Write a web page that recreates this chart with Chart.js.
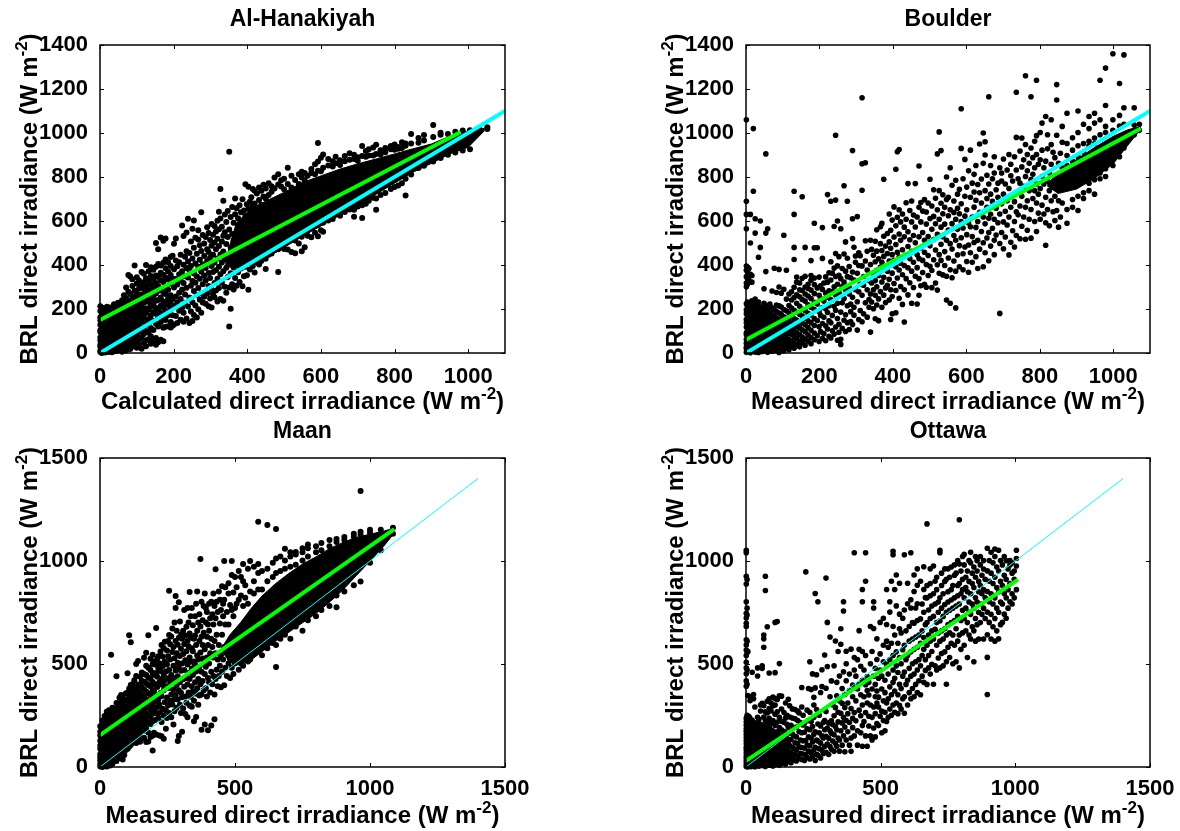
<!DOCTYPE html>
<html>
<head>
<meta charset="utf-8">
<title>BRL direct irradiance</title>
<script src="https://cdn.jsdelivr.net/npm/chart.js@4/dist/chart.umd.min.js"></script>
<style>
  html, body { margin: 0; padding: 0; background: #fff; }
  #page { position: relative; width: 1180px; height: 831px; overflow: hidden; }
  .panel { position: absolute; }
</style>
</head>
<body>
<div id="page">
  <div class="panel" style="left:0;top:0;width:560px;height:415px"><canvas id="hanakiyah"></canvas></div>
  <div class="panel" style="left:640px;top:0;width:560px;height:415px"><canvas id="boulder"></canvas></div>
  <div class="panel" style="left:0;top:415px;width:560px;height:416px"><canvas id="maan"></canvas></div>
  <div class="panel" style="left:640px;top:415px;width:560px;height:416px"><canvas id="ottawa"></canvas></div>
</div>
<script>
'use strict';

// labels
var titleNames = ['Al-Hanakiyah', 'Boulder', 'Maan', 'Ottawa'];
var xLabelCalculated = 'Calculated direct irradiance (W m';
var xLabelMeasured = 'Measured direct irradiance (W m';
var yLabelText = 'BRL direct irradiance (W m';

// tick labels
var ticksShortX = [0, 200, 400, 600, 800, 1000];
var ticksShortY = [0, 200, 400, 600, 800, 1000, 1200, 1400];
var ticksLong = [0, 500, 1000, 1500];

// reference and fit lines, read at their end points
var oneToOneShort = [[0, 0], [1100, 1100]];
var oneToOneLong = [[0, 0], [1400, 1400]];
var fitHanakiyah = [[0, 150], [980, 1005]];
var fitBoulder = [[0, 60], [1075, 1020]];
var fitMaan = [[0, 155], [1090, 1155]];
var fitOttawa = [[0, 30], [1010, 910]];

// solid part of the clouds, lower and upper edge where the dots merge
var hanakiyahCoreLow = [[340,395],[370,385],[410,400],[450,430],[500,480],[550,530],[600,578],[650,625],[700,672],[750,722],[800,772],[850,822],[900,862],[950,905],[1000,935],[1045,1012]];
var hanakiyahCoreHigh = [[340,415],[370,590],[410,655],[450,690],[500,730],[550,775],[600,805],[650,835],[700,860],[750,882],[800,905],[850,928],[900,950],[950,985],[1000,1010],[1045,1022]];
var boulderCoreLow = [[820,760],[850,725],[900,745],[950,795],[1000,860],[1040,945],[1075,1018]];
var boulderCoreHigh = [[820,770],[850,815],[900,880],[950,935],[1000,985],[1040,1015],[1075,1030]];
var maanCoreLow = [[450,565],[480,510],[520,500],[560,520],[600,560],[650,610],[700,655],[750,700],[800,745],[850,800],[900,860],[950,930],[1000,1000],[1050,1070],[1092,1140]];
var maanCoreHigh = [[450,575],[480,640],[520,700],[560,770],[600,830],[650,890],[700,940],[750,985],[800,1020],[850,1060],[900,1090],[950,1115],[1000,1130],[1050,1145],[1092,1160]];

// dots, one row per x reading: [x, y, y, y ...]
var hanakiyahColumns = [
  [1,4,11,29,38,57,71,96,103,128,149,162,191,212],[5,0,17,23,46,62,84,90,117,139,171,188],[9,8,15,34,52,66,79,108,124,156,178,204],
  [14,2,26,41,49,74,98,113,133,146,183,197],[19,12,21,37,63,70,93,121,142,168,175,210],[23,5,31,44,58,87,101,129,152,164,193],
  [28,16,24,53,67,81,110,119,147,180,207],[33,3,39,47,75,92,106,137,159,172,199],[38,20,28,60,72,99,115,143,166,189,222],
  [44,9,34,55,83,94,122,135,170,185,215],[49,26,43,66,78,111,126,153,177,201,228],[54,14,36,59,88,104,132,148,181,219],
  [60,6,30,51,77,97,125,141,167,195,212,240],[65,22,46,69,91,118,136,163,186,226,262],[71,11,38,62,85,112,131,158,190,209,250,298],
  [77,33,54,80,102,127,152,176,204,238,278,355],[82,18,44,73,95,121,145,174,199,221,268,348],[88,29,64,89,116,138,169,192,231,256,305,335],
  [94,40,52,84,109,134,161,187,216,247,283,398],[100,24,47,75,130,151,179,206,236,272,316,344],[106,36,61,96,124,165,194,225,258,293,330],
  [113,19,70,108,142,173,211,240,266,310,368],[119,45,86,117,160,188,229,253,291,322,360],[125,31,58,100,136,182,203,248,275,304,340,400],
  [132,63,92,128,155,197,232,262,288,327,372],[138,42,76,114,171,210,244,279,313,350,390],[145,55,104,147,185,222,259,296,336,378],
  [152,38,68,133,178,205,237,270,318,352,392,500],[158,49,120,163,198,241,283,305,345,405,472],[165,60,140,182,215,252,292,331,365,398,525],
  [172,53,115,157,208,234,276,323,356,410,510],[178,119,150,192,226,268,301,342,385,425,520],[185,122,172,218,247,287,334,370,412],
  [192,116,141,200,233,263,315,354,395,436],[197,124,172,246,339,442],
  [201,129,214,298,381,497],[206,168,257,336,421,520],[210,136,231,311,394],[215,192,274,358,412],[219,151,246,329,447],[223,206,289,372,580],
  [227,142,183,318,401,532],[231,228,266,349,438],[235,157,297,386,462,548],[239,211,343,416,610],[243,136,252,374,455],[247,189,306,396,507],
  [251,146,231,327,430,565],[255,173,282,361,478,602],[259,216,319,407,524],[263,161,263,348,451],[267,199,295,392,516,558],[271,242,338,424,490],
  [275,183,271,369,464,640],[279,229,312,403,536],[283,256,352,441,498],[287,224,329,386,527],[291,271,418,472,572],[295,212,304,364,459,545],
  [299,248,341,433,514],[303,207,289,396,488,586],[307,268,368,447,538],[311,253,318,411,502,577],[315,284,376,472,552],[319,234,338,429,519,601],
  [323,296,392,486,563,642],[327,245,358,448,611,745],[331,319,411,507,574],[335,237,372,461,533,692],[339,301,426,549,629],[343,274,388,496,596],
  [347,346,443,527,645],[351,121,298,407,561,915],[355,201,362,478,618],[359,313,423,541,664],[363,289,389,512,592],[367,341,454,631,702],
  [371,306,402,548,658],[375,367,498,613],[379,323,437,571,672],[383,384,526,640],[387,303,462,587,699],[391,349,418,556,648],
  [395,392,504,623,767],[399,353,471,591,676],[403,287,441,538,656,756],[407,379,514,632,688],[411,422,597,708],[415,396,558,669,745],
  [420,366,484,680,738],[426,412,651,725],[432,402,696,752],[438,418,673,738],[444,441,711,765],[450,382,428,702,748],[458,447,718,772],[466,452,733,758],[474,468,491,748,798],
  [484,368,472,766,812],[492,484,757,785],[500,473,744,792],[510,471,536,768,842],[520,459,752,806],[530,453,511,786],[540,498,768,812],[548,462,528,798,824],[556,481,784,818],[564,533,806],
  [574,526,572,818,836],[584,547,812,858],[592,531,582,828,870,955],[600,558,826,888],[606,551,592,842,902],[620,602,852,882],[632,609,848,872],[640,631,862,892],[652,624,854,876],[665,641,872,896],
  [678,652,878,908],[690,619,651,882,901],[700,666,890,874],[712,614,672,896,941],[722,678,892,918],[730,692,898,926],[742,706,898,934],[750,651,702,904,947],[762,718,902,922],[775,727,912,932],
  [790,746,926,941],[800,754,924,948],[810,761,928,936],[820,772,932,958],[830,716,792,942,952],[845,811,952,996],[865,841,956,977],[880,851,966,991],
  [905,871,982,1036],[925,886,992,1001],[945,901,996],[965,911,1006],[985,921,1011],[1005,926,1013],[1030,1006,1021],[1052,1018,1026]
];

var boulderColumns = [
  [1,3,19,27,44,61,83,92,118,137,152,178,196,224,301,318,347,376,395,565,630,690,1060],[4,11,36,52,70,99,112,141,165,186,213,232,312,339,368],
  [8,6,24,41,67,88,106,129,158,172,203,228,331,384],[12,1,17,47,58,79,101,124,149,194,218,358,500,630],[16,9,31,54,76,94,120,145,168,189,237,322,352],
  [20,22,40,63,85,110,133,161,183,209,226,735,1020],[25,4,28,50,72,97,126,151,176,200,245,545,610],[29,14,37,59,81,104,139,163,191,221],
  [34,2,25,48,69,92,117,144,170,197,232,435],[39,18,34,56,86,108,127,155,181,210,480,600],[44,7,29,45,74,96,122,148,174,204],
  [49,21,42,64,89,113,136,166,192,226,292],[54,12,33,55,78,101,131,157,187,215,370,545,905],[59,3,26,46,71,94,119,150,178,205,565],
  [65,16,38,62,83,110,134,162,184,222],[71,8,31,52,75,98,126,146,173,206,282],[77,24,43,68,91,115,139,167,196,385],[83,13,35,58,86,107,131,159,188,218,275],
  [90,2,27,49,79,103,124,153,182,214,300,380],[96,19,41,66,94,121,143,176,209,272],[103,10,32,56,82,112,138,165,198,290,535],[110,24,48,73,100,129,158,192,245,376],
  [117,15,37,61,90,119,147,182,216,268],[124,30,55,84,108,135,168,204,241,278],[131,22,45,76,101,127,156,194,252,299,425,480,630,735],[138,38,66,93,122,150,185,226,264,322,345],
  [146,28,52,83,114,141,176,212,256,287,318],[153,47,72,105,136,168,199,243,284,340,710],[161,35,63,97,128,158,192,236,268,300,349,480],[169,54,82,116,146,181,219,259,293,312],
  [177,42,70,103,138,173,208,248,286,331,352,420],[186,60,91,125,157,197,231,270,311,341,478,590],
  [194,78,148,223,296,478],[199,52,119,187,262,345],[203,97,171,248,306],[208,66,134,207,289,430,570],[212,88,162,236,318],[217,56,124,201,272,346],
  [222,109,184,254,322,720],[226,76,146,215,283,365],[231,68,137,243,332,415,690],[235,101,171,279,363],[240,86,212,301,386,575],[244,118,194,264,348,452,695,990],
  [249,58,157,226,312,396,600],[253,94,131,277,353,438],[258,39,62,186,263,338,565],[262,112,228,302,384],[267,149,248,322,450,760],[271,98,174,287,372,505],
  [276,138,215,347,431,690],[281,107,268,298,393],[285,143,188,222,342],[290,129,253,368,520,610,920],[294,172,208,332,481],[298,288,412,441],
  [303,104,233,362,620],[307,152,278,398,456],[311,193,312,442],[316,142,262,396,740,860,1160],[320,178,308,348],[325,228,418,510,865],[330,163,287,377,462],
  [335,208,328,243],[339,95,268,402,512],[342,232,318,471],[347,201,287,361,444],[352,156,262,329,415,508],[356,218,301,376,463,560],[361,147,246,352,428],
  [366,279,391,497,574],[370,208,323,412,466,589],[375,263,344,439,531,790],[380,229,296,381,486],[385,308,372,452,543],[390,241,335,418,505,632],
  [394,152,287,399,476,558],[398,178,257,363,447,604],[403,316,421,527,664],[408,183,284,392,493,578,835],[412,341,458,617,915],[417,249,377,436,541,651,925],
  [421,302,408,512,596],[426,221,356,469,632],[431,141,287,398,528,572],[436,338,445,608,683],[441,264,387,484,551,770],[446,319,429,515,648],
  [451,226,372,462,596,691],[456,298,412,534,627],[461,349,501,573,770],[466,223,388,447,618],[471,262,338,429,528,662,850],[476,306,477,596,684],
  [481,366,421,548,645],[486,312,458,512,697],[491,299,402,586,641],[496,352,443,529,682],[501,394,487,611,790],[506,297,375,562,668],
  [511,424,516,621,742],[516,318,468,587,703],[521,286,401,539,651,905],[526,362,447,608,738,1005],[531,421,494,572,681,920],[536,355,528,633,719],
  [541,398,461,586,662],[546,241,349,512,698,800],[551,432,559,624,708],[556,226,378,497,651,842],[561,342,473,588,762],[566,418,534,639,691],
  [571,205,372,512,608,785],[576,446,562,658,722],[581,392,488,633,744],[586,524,597,678,930,1110],[591,378,451,568,792],[596,482,622,712,880],
  [601,416,538,651,754],[606,367,491,592,828],[611,456,574,708,922],[616,412,529,618,772],[621,502,663,732,812],[626,438,571,694,852],
  [631,384,512,598,766],[636,472,639,728,950],[641,552,682,791],[646,392,501,618,862,1000],[651,456,587,738,900,960],[656,523,662,702,808],
  [661,419,548,612,768,1165],[666,486,631,722,852],[671,567,689,792],[676,447,512,608,818,892],[681,536,658,742],[686,592,708,772],[691,180,498,632,842],
  [696,548,678,782,818],[701,474,596,722,882],[706,527,644,768],[711,582,692,832],[716,446,618,748,902],[721,503,662,806,858],[726,556,716,782],
  [731,482,598,688,892],[736,534,642,832,980,1185],[741,628,728,792],[746,519,668,772,918],[751,576,712,846,977],[756,618,758,878],[761,517,662,802,948,1260],
  [766,558,692,828,902],[771,608,738,862],[776,522,652,788,932,1165],[781,702,812,888],[786,598,738,842,962],[791,552,682,768,902,988,1240],[796,636,722,858],
  [801,608,748,878,1002],[806,672,802,922,1045],[811,632,768,842],[816,490,592,708,872,1075],[821,652,782,928,992],[826,578,738,818],[831,692,858,948,1060],
  [836,642,772,912],[841,602,712,888],[846,648,792,990,1150,1220],[851,572,692,862],[856,618,748,908],[861,682,842,958,1030],
  [874,590,652,852,898,952,1090],[889,662,698,872,922,978],[904,648,712,892,942,1002,1100],[919,702,728,912,952,1040],[934,738,772,942,962,1020,1075],
  [949,722,788,952,977,1045,1090],[964,792,818,992,1060,1240],[979,802,838,1002,1030,1125,1295],[999,852,1012,1060,1360],[1017,892,1032,1080,1225],[1029,932,1040,1115,1355],[1057,992,1036,1115],[1071,1012,1040]
];

var maanColumns = [
  [1,3,16,33,47,62,88,104,127,153,171,198],[5,9,24,41,55,79,96,118,146,166,190],[9,0,19,36,68,84,111,137,159,183,226],[13,12,28,50,73,92,123,142,174,203],
  [17,5,22,44,61,86,108,131,156,179,212,248],[21,17,35,57,81,99,126,148,168,194,231],[25,2,27,48,70,94,116,139,162,187,216,268],[29,13,38,64,83,107,130,153,182,207,241],
  [33,21,45,59,91,112,136,161,178,199,246,276],[37,7,31,53,76,98,124,147,172,205,228,258],[41,24,49,71,95,128,151,176,201,236,262,545],[46,16,42,63,89,117,143,169,197,223,267,288],
  [51,33,58,84,106,134,158,186,213,243,279],[56,38,61,90,114,141,167,192,224,251,284],[61,29,54,82,113,138,164,189,217,246,274,311,440],[67,47,75,104,133,159,184,212,238,268,302],
  [72,44,79,109,135,163,187,216,243,271,299,336],[78,63,94,122,153,180,207,234,261,290,318,349],[84,36,72,103,139,168,196,226,253,282,309,344],[90,58,86,118,146,173,201,229,259,288,326],
  [96,83,114,144,175,203,231,264,293,322,358],[102,88,121,148,182,209,236,260,291,328,361,455],[108,98,132,163,193,224,248,281,312,347,381,640],[114,107,141,172,204,233,265,297,331,368,398,605],
  [120,118,151,178,212,238,272,301,329,364,402],[127,127,162,196,226,256,287,316,352,384,421],[134,116,149,181,213,246,276,311,343,379,442,500],[141,131,171,203,237,266,299,332,367,401,515],
  [148,122,158,194,228,258,289,326,358,397,438],[155,138,183,217,247,282,313,349,386,419,459],[163,142,176,208,241,272,306,342,377,414,452,530],[171,121,189,224,259,294,329,366,407,446,491,555],
  [179,124,168,216,252,288,323,358,398,435,482,640],[187,146,209,243,278,314,351,392,428,471,526],[195,80,152,222,258,296,336,374,413,456,499,545],
  [200,166,279,366,448,512],[204,228,318,402,497],[208,158,262,343,456,675],[212,291,388,438,527],[216,239,326,479,538],[220,153,302,411,504],[224,266,359,466,561],
  [228,149,218,344,427,592],[232,283,398,489,536],[236,137,249,372,446,578],[240,314,421,512,608],[244,186,276,392,463],[248,238,337,498,566],[252,298,431,538,612],
  [256,262,384,471,641,855],[260,322,409,522,596],[264,241,352,447,633],[268,303,436,558,672],[272,206,376,491,582],[276,271,329,417,528,702],[280,349,468,612,772,830],
  [284,288,398,552,661],[288,126,328,441,506,594],[292,151,372,483,628,800],[296,302,412,539,706],[300,262,361,467,574,643],[304,171,338,503,622],[308,284,426,548,662],
  [312,389,471,597,762],[316,257,342,518,638],[320,312,432,562,681],[324,242,401,497,612,772],[328,362,458,586,702],[332,298,427,532,648,850],[336,341,511,628,732],
  [340,292,392,478,577,772],[344,366,446,562,688],[348,222,322,512,622],[352,411,498,638,732],[356,243,356,463,592,792],[360,382,541,662,852],[364,302,427,522,702],
  [368,347,487,612,742],[372,402,556,682,1010],[376,181,352,462,632,802],[380,418,527,592,712],[384,372,502,652,782],[388,206,452,572,842],[392,382,487,702,772],
  [396,342,532,632,752],[400,178,432,592,692],[404,412,502,662,792],[408,362,552,722],[412,202,462,622,802],[416,402,582,742],[420,442,532,692,842],[424,232,352,612,782],
  [428,427,552,722,960],[432,472,642,802],[436,392,522,752],[440,442,592,852],[444,492,697,812],[448,387,542,762],[452,462,642,877],[456,522,732,792],
  [460,397,582,812,1000],[464,482,692,872],[470,442,562,752],[476,502,692,842,892],[482,432,522,787],[488,482,762,932,1000],[494,452,732,847],[500,502,772,922],
  [506,512,792,872],[514,472,542,812,952],[522,502,832,922],[530,492,782,902,985],[538,532,822,882],[548,512,792,962],[556,522,852,1000],
  [570,552,842,902,972],[586,562,862,942,985,1190],[600,542,862,952],[620,577,902,962,1175],[640,602,922,992],[652,485,592,942,1012,1155],[668,622,952,1022],
  [685,642,962,1002,1060],[705,622,972,1022,1042],[725,682,982,1032,1044],[750,662,1002,1042,1062],[770,712,1022,1062,1080],[800,732,1042,1072],[820,762,1052,1087],
  [850,782,1072,1102],[876,775,832,1092,1107],[905,852,1102,1117],[940,882,1117,1132],[965,900,1127,1142,1340],[1000,992,1137,1152],[1040,1052,1152],[1085,1132,1162]
];

var ottawaColumns = [
  [1,3,14,28,41,53,69,84,96,113,127,142,158,173,186,203,218,236,392,418,453,482,508,541,568,592,618,682,698,723,746,802,888,926,1040,1052],
  [4,8,21,35,47,62,77,92,108,121,138,152,167,181,198,222,251,402,472,558,611,738,771,910],[7,0,17,31,55,71,88,103,117,133,147,163,178,192,211,228,347,560],
  [11,5,24,38,59,74,97,111,126,144,159,176,199,216,245],[15,11,29,44,51,66,82,104,119,137,155,171,188,207,236,322,341],[19,2,19,33,48,73,91,114,131,149,164,183,202],
  [23,7,25,37,58,76,99,122,138,161,178,196,227,460],[28,13,30,43,65,86,106,129,146,169,187,208,331,352],[33,1,20,36,54,70,94,116,134,157,173,199,291],
  [38,9,27,47,63,85,108,126,150,177,192,214],[43,16,34,52,74,96,118,144,166,189,241,442,481],[48,4,23,39,61,79,103,132,155,180,211,231],
  [54,12,31,49,72,93,115,137,162,186,206,272,301],[60,7,26,42,66,88,110,128,153,179,204,309,479,491],[66,19,37,57,78,101,123,148,174,199,242,298,581,622,641],
  [72,3,29,51,69,92,117,141,164,192,224,268,857,926],[79,14,34,54,82,107,131,156,183,214,262,319,681],[86,9,24,46,64,87,111,139,166,193,236,284,331,456],
  [93,18,37,58,76,102,125,152,181,212,272,311],[100,5,28,44,71,97,120,147,175,226,296,339],[108,12,33,53,83,106,134,161,202,256,301,332,458,702],
  [116,22,41,62,91,115,143,171,218,268,328,706],[124,8,30,56,77,101,127,156,192,241,346,502],[132,17,39,66,90,118,145,181,222,281,344],
  [141,25,46,72,94,122,150,172,216,264],[147,14,58,107,166,238,311],[152,37,85,139,207,251],[157,27,76,121,192,329],[162,52,104,165,243,297],[167,21,69,133,203],
  [172,44,96,161,238,282],[177,35,89,152,192],[182,61,118,234,279],[187,29,83,146,194],[192,53,113,226,271],[197,41,97,171,262],[202,67,131,216],[207,37,95,166,291,386],
  [212,63,127,204,251],[217,31,91,169,211],[222,59,129,947],[227,47,107,186,276],[232,77,146,226,381],[237,39,104,181,266,511],[242,69,141,221,376],[247,51,121,196,452],
  [252,84,159,241,301,338],[257,32,96,171,384,842],[262,62,131,279,448],[267,57,126,209,802],[272,89,166,251],[277,44,116,199,362],[282,81,151,391,472],[287,66,141,216],
  [292,101,181,226,544],[297,71,149,269,382,917],[302,111,189,702,488],[307,61,139,214],[312,99,176,341,631],[317,86,164,224,418],[322,126,206,302],[327,76,156,249,491],
  [332,114,196,288,612],[337,101,181,346,411],[342,141,219,266,561],[347,77,131,321,442],[352,176,261,596,671],[357,106,214,309,381],[362,151,241,462,757,802],[367,74,194,289,352],
  [372,131,226,419,501,562],[378,171,259,311],[384,106,216,371,451],[390,76,141,284,572],[396,191,236,341,398],[402,151,264,471,531,1040],[408,224,321,441],[414,106,176,379,521],
  [420,276,401,571,662],[426,166,249,351,489],[432,101,201,301,421,561,802,862],[438,221,341,471],[444,151,264,399,541,902,1040],[450,101,311,371,439],[456,199,246,349,411],
  [462,151,301,501,682],[468,131,241,379,561],[474,189,291,441,672,772,802],[480,146,259,341,401,479],[486,211,311,369,522,622],[492,201,431,291,339],[498,246,471,549,702],
  [504,166,271,379,441],[510,226,321,511,591,722],[516,176,266,361,421],[522,221,311,499,611,692,862],[528,241,331,451,581],[534,281,389,521,752,802],[540,251,351,601,902],
  [546,301,411,471,541,682,1030,1047],[552,266,369,431,641,862],[558,311,491,559,782,932],[564,259,351,459,601],[570,299,401,531,671,742,892],[576,281,381,501,651],
  [582,331,441,569,722],[588,261,341,461,591,762,1030],[594,401,521,661],[600,301,421,541,792,892],[606,361,479,611,682],[612,331,441,559,772,812,1040],[618,381,501,621,701],
  [624,341,451,571,698,852,932],[630,401,511,631,772],[636,361,471,581,711,792,882,962],[642,419,521,641],[648,351,491,601,719,902],[654,441,541,661,791],[660,411,571,629,751,862,972],
  [666,469,521,691,822],[672,401,591,701,821,881,1180],[678,481,541,641,762],[684,451,611,721,831,891,962],[690,499,561,661,781],[696,402,621,731,841,976],[702,491,669,791,902],
  [708,471,591,701,861,921],[714,529,651,751,801],[720,481,611,709,821,1040,1052],[726,551,661,771,881,941],[732,491,621,731,841],[738,559,671,789,901,962],[744,402,511,641,751,911],
  [750,581,691,801,851,962],[756,531,651,761,921],[762,601,701,811,861,971],[768,501,641,771,881],[774,591,711,821,931,981],[780,511,671,781,941],[786,611,731,831,881,1002],
  [792,481,641,791,891,985,1200],[798,571,711,841,951],[804,651,761,861,911,1022],[810,591,721,821,981,1032],[816,661,771,871,921],[822,531,701,851,951],[828,641,751,801,901,1002],
  [834,621,741,841,991,1042],[840,681,791,891,941],[846,511,661,771,871,971],[852,611,721,821,921,1022],[858,691,801,951,1002],[864,621,751,851,901],[870,701,791,881,981,1022],
  [876,741,841,931],[882,621,771,861,961,1002],[888,721,821,911],[896,352,532,642,752,852,952,1062],[903,702,802,902,1002],[910,621,741,841,941,1042],[917,681,791,891,991],
  [924,611,721,821,921,1022,1058],[931,661,771,871,971],[938,622,751,851,951,1052],[945,691,801,901,1002],[952,702,791,881,981],[959,742,841,931,1022],[966,722,821,911,1002],
  [973,771,861,961],[980,802,891,981,1002],[988,791,841,941,991],[996,821,911,951],[1004,861,976,1012,1052]
];

// turn the rows into {x, y} points for the scatter dataset
function columnsToPoints(columns) {
  var points = [];
  columns.forEach(function (col) {
    for (var i = 1; i < col.length; i++) {
      points.push({ x: col[0], y: col[i] });
    }
  });
  return points;
}

function pairsToPoints(pairs) {
  return pairs.map(function (p) {
    return { x: p[0], y: p[1] };
  });
}

function lineDataset(pairs, color, width) {
  return {
    type: 'line',
    data: pairsToPoints(pairs),
    borderColor: color,
    borderWidth: width,
    pointRadius: 0,
    fill: false,
    borderCapStyle: 'butt'
  };
}

// inward ticks on all four sides, box, and axis labels with a raised -2
var matlabAxes = {
  id: 'matlabAxes',
  afterDraw: function (chart, args, opts) {
    var ctx = chart.ctx;
    var area = chart.chartArea;
    ctx.save();
    ctx.strokeStyle = '#000';
    ctx.lineWidth = 1;
    ctx.beginPath();
    chart.scales.x.ticks.forEach(function (t) {
      var px = Math.round(chart.scales.x.getPixelForValue(t.value)) + 0.5;
      ctx.moveTo(px, area.top);
      ctx.lineTo(px, area.top + 4);
      ctx.moveTo(px, area.bottom);
      ctx.lineTo(px, area.bottom - 4);
    });
    chart.scales.y.ticks.forEach(function (t) {
      var py = Math.round(chart.scales.y.getPixelForValue(t.value)) + 0.5;
      ctx.moveTo(area.left, py);
      ctx.lineTo(area.left + 4, py);
      ctx.moveTo(area.right, py);
      ctx.lineTo(area.right - 4, py);
    });
    ctx.stroke();
    ctx.lineWidth = 1.5;
    ctx.strokeRect(area.left, area.top, area.right - area.left, area.bottom - area.top);

    ctx.fillStyle = '#000';
    ctx.textBaseline = 'alphabetic';
    drawLabel(ctx, opts.xLabel, (area.left + area.right) / 2, area.bottom + 56, 0);
    drawLabel(ctx, yLabelText, area.left - 63, (area.top + area.bottom) / 2, -Math.PI / 2);
    ctx.restore();
  }
};

function drawLabel(ctx, text, cx, cy, angle) {
  var big = 'bold 24px "Liberation Sans"';
  var small = 'bold 17px "Liberation Sans"';
  ctx.font = big;
  var w1 = ctx.measureText(text).width;
  var w3 = ctx.measureText(')').width;
  ctx.font = small;
  var w2 = ctx.measureText('-2').width;
  var start = -(w1 + w2 + w3) / 2;
  ctx.save();
  ctx.translate(cx, cy);
  ctx.rotate(angle);
  ctx.textAlign = 'left';
  ctx.font = big;
  ctx.fillText(text, start, 0);
  ctx.font = small;
  ctx.fillText('-2', start + w1, -10);
  ctx.font = big;
  ctx.fillText(')', start + w1 + w2, 0);
  ctx.restore();
}

function plainTick(value) {
  return String(value);
}

function makeChart(cfg) {
  var datasets = cfg.lines.slice();
  datasets.push({
    data: columnsToPoints(cfg.columns),
    backgroundColor: '#000',
    borderWidth: 0,
    pointRadius: cfg.dotSize,
    clip: false
  });
  if (cfg.coreLow) {
    datasets.push({ type: 'line', data: pairsToPoints(cfg.coreHigh), borderColor: '#000', borderWidth: 1, pointRadius: 0, fill: '+1', backgroundColor: '#000' });
    datasets.push({ type: 'line', data: pairsToPoints(cfg.coreLow), borderColor: '#000', borderWidth: 1, pointRadius: 0, fill: false });
  }

  return new Chart(document.getElementById(cfg.id), {
    type: 'scatter',
    data: { datasets: datasets },
    plugins: [matlabAxes],
    options: {
      responsive: true,
      maintainAspectRatio: false,
      animation: false,
      events: [],
      layout: { padding: { right: cfg.rightPad, top: 0 } },
      plugins: {
        legend: { display: false },
        tooltip: { enabled: false },
        title: {
          display: true,
          fullSize: false,
          text: cfg.title,
          color: '#000',
          font: { family: 'Liberation Sans', weight: 'bold', size: 23, lineHeight: 1.2 },
          padding: { top: cfg.titleTop, bottom: cfg.titleBottom }
        },
        matlabAxes: { xLabel: cfg.xLabel }
      },
      scales: {
        x: {
          type: 'linear',
          min: 0,
          max: cfg.xMax,
          grid: { display: false },
          border: { display: false },
          afterBuildTicks: function (scale) {
            scale.ticks = cfg.xTicks.map(function (v) { return { value: v }; });
          },
          ticks: { color: '#000', padding: cfg.xTickPad, maxRotation: 0, autoSkip: false, callback: plainTick, font: { family: 'Liberation Sans', weight: 'bold', size: 22 } },
          afterFit: function (scale) { scale.height = cfg.xHeight; }
        },
        y: {
          type: 'linear',
          min: 0,
          max: cfg.yMax,
          grid: { display: false },
          border: { display: false },
          afterBuildTicks: function (scale) {
            scale.ticks = cfg.yTicks.map(function (v) { return { value: v }; });
          },
          ticks: { color: '#000', padding: 4, autoSkip: false, callback: plainTick, font: { family: 'Liberation Sans', weight: 'bold', size: 22 } },
          afterFit: function (scale) { scale.width = cfg.yWidth; }
        }
      }
    }
  });
}

makeChart({
  id: 'hanakiyah', title: titleNames[0], xLabel: xLabelCalculated,
  lines: [lineDataset(oneToOneShort, '#00ffff', 4), lineDataset(fitHanakiyah, '#00ff00', 4)],
  columns: hanakiyahColumns, coreLow: hanakiyahCoreLow, coreHigh: hanakiyahCoreHigh, dotSize: 3,
  xMax: 1100, yMax: 1400, xTicks: ticksShortX, yTicks: ticksShortY, xTickPad: 3,
  yWidth: 100, xHeight: 62, rightPad: 55, titleTop: 5.4, titleBottom: 12
});

makeChart({
  id: 'boulder', title: titleNames[1], xLabel: xLabelMeasured,
  lines: [lineDataset(oneToOneShort, '#00ffff', 4), lineDataset(fitBoulder, '#00ff00', 4)],
  columns: boulderColumns, coreLow: boulderCoreLow, coreHigh: boulderCoreHigh, dotSize: 2.8,
  xMax: 1100, yMax: 1400, xTicks: ticksShortX, yTicks: ticksShortY, xTickPad: 3,
  yWidth: 106, xHeight: 62, rightPad: 50, titleTop: 5.4, titleBottom: 12
});

makeChart({
  id: 'maan', title: titleNames[2], xLabel: xLabelMeasured,
  lines: [lineDataset(fitMaan, '#00ff00', 4), lineDataset(oneToOneLong, '#00ffff', 1)],
  columns: maanColumns, coreLow: maanCoreLow, coreHigh: maanCoreHigh, dotSize: 3,
  xMax: 1500, yMax: 1500, xTicks: ticksLong, yTicks: ticksLong, xTickPad: 1,
  yWidth: 100, xHeight: 64, rightPad: 55, titleTop: 2.4, titleBottom: 13
});

makeChart({
  id: 'ottawa', title: titleNames[3], xLabel: xLabelMeasured,
  lines: [lineDataset(fitOttawa, '#00ff00', 4), lineDataset(oneToOneLong, '#00ffff', 1)],
  columns: ottawaColumns, dotSize: 2.8,
  xMax: 1500, yMax: 1500, xTicks: ticksLong, yTicks: ticksLong, xTickPad: 1,
  yWidth: 106, xHeight: 64, rightPad: 50, titleTop: 2.4, titleBottom: 13
});
</script>
</body>
</html>
